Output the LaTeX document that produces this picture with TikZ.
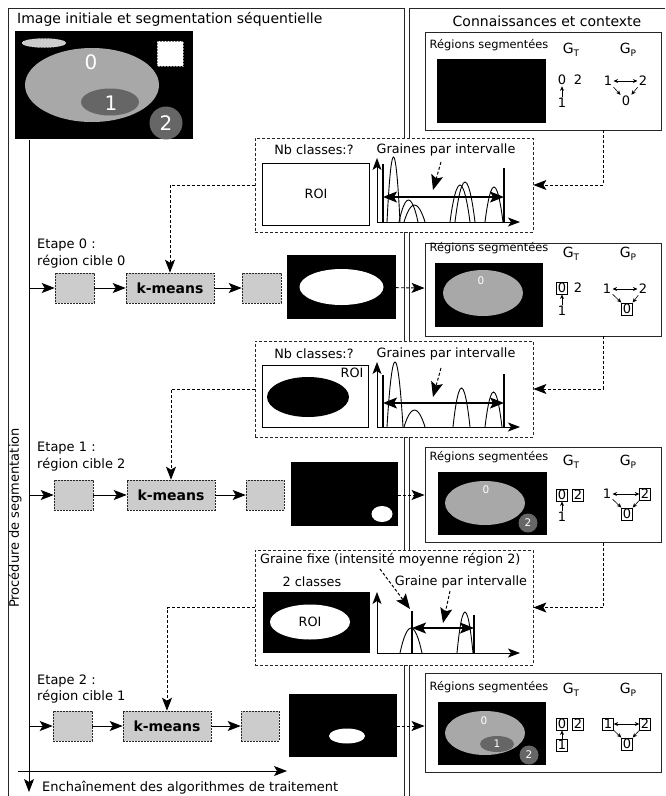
\documentclass[tikz,border=0pt]{standalone}
\usepackage{fontspec}
\setmainfont{DejaVu Sans}
\usetikzlibrary{arrows.meta,calc}
\definecolor{boxgrey}{gray}{0.8}
\definecolor{regA}{gray}{0.66}
\definecolor{regB}{gray}{0.4}
\definecolor{regC}{gray}{0.8}
\newcommand{\fsz}[1]{\fontsize{#1}{#1}\selectfont}
\newcommand{\Gsub}[1]{G\raisebox{-0.35ex}{\fsz{9}#1}}
\begin{document}
\begin{tikzpicture}[x=1pt,y=-1pt,
  panel/.style={draw=black!85, line width=0.8pt},
  kb/.style={draw=black!85, line width=0.9pt, fill=white, minimum width=236pt, inner sep=0pt},
  dbox/.style={draw=black!85, dash pattern=on 3pt off 2pt, fill=white, line width=0.8pt, minimum width=278pt, inner sep=0pt},
  gbox/.style={draw=black!85, dash pattern=on 2pt off 1pt, fill=boxgrey, line width=0.6pt, minimum height=30pt, inner sep=0pt},
  blk/.style={fill=black, inner sep=0pt},
  arr/.style={-{Stealth[length=13pt,width=10pt,inset=3pt]}, line width=0.9pt},
  darr/.style={arr, dash pattern=on 3pt off 2pt},
  harr/.style={{Stealth[length=14pt,width=11pt,inset=3pt]}-{Stealth[length=14pt,width=11pt,inset=3pt]}, line width=1.1pt},
  hdarr/.style={-{Stealth[length=15pt,width=12pt,inset=3pt]}, line width=1pt, dash pattern=on 3pt off 2pt},
  garr/.style={-{Stealth[length=4.5pt,width=4pt]}, line width=0.6pt},
  ggarr/.style={{Stealth[length=4.5pt,width=4pt]}-{Stealth[length=4.5pt,width=4pt]}, line width=0.6pt},
  gnum/.style={inner sep=1.2pt, font=\fsz{13}},
  bnum/.style={gnum, draw, line width=0.7pt},
  txt/.style={inner sep=0pt, font=\fsz{12.8}},
  ttl/.style={inner sep=0pt, font=\fsz{14}},
  rtxt/.style={inner sep=0pt, font=\fsz{11.4}},
  gtl/.style={inner sep=0pt, font=\fsz{14}},
  inum/.style={inner sep=0pt, text=white, font=\fsz{10.5}},
  hbar/.style={line width=1.2pt},
  arch/.style={line width=0.9pt},
  axis/.style={-{Stealth[length=12pt,width=9pt,inset=3pt]}, line width=0.9pt}
]
\useasboundingbox (0,0) rectangle (665,796);
\fill[white] (0,0) rectangle (665,796);

% panels
\draw[panel] (8,796) -- (8,8) -- (404,8) -- (404,796);
\draw[panel] (409,796) -- (409,8) -- (665,8);

% titles
\node[ttl, anchor=west] (title1) at (17,19) {Image initiale et segmentation séquentielle};
\node[ttl] (title2) at (547,21) {Connaissances et contexte};

% initial image
\node[blk, minimum width=178pt, minimum height=108pt] (img0) at (104,85) {};
\fill[regC] (44,43) ellipse [x radius=22, y radius=4.5];
\draw[white, densely dotted, line width=0.5pt] (44,43) ellipse [x radius=22, y radius=4.5];
\fill[white] (157,41) rectangle (183,66);
\draw[gray, densely dotted, line width=0.5pt] (157,41) rectangle (183,66);
\fill[regA] (92,85) ellipse [x radius=67, y radius=37];
\fill[regB] (110,102) ellipse [x radius=29, y radius=13.5];
\fill[regB] (166,123) circle [radius=16.5];
\node[inner sep=0pt, text=white, font=\fsz{20}] (n0) at (91,62) {0};
\node[inner sep=0pt, text=white, font=\fsz{20}] (n1) at (111,103) {1};
\node[inner sep=0pt, text=white, font=\fsz{20}] (n2) at (166,123) {2};

% main vertical and horizontal arrows
\coordinate (vtop) at (29,140);
\coordinate (vbot) at (29,792);
\draw[arr] (vtop) -- (vbot);
\coordinate (hl) at (18,771);
\coordinate (hr) at (287,771);
\draw[arr] (hl) -- (hr);
\node[txt, anchor=west, font=\fsz{13}] (ench) at (42,788) {Enchaînement des algorithmes de traitement};
\node[txt, rotate=90, font=\fsz{13}] (proc) at (15,518) {Procédure de segmentation};

% ================= Knowledge box 1
\node[kb, minimum height=98pt] (kb1) at (543,81) {};
\node[rtxt] (rs1) at (489,45) {Régions segmentées};
\node[gtl] (gt1) at (571,50) {\Gsub{T}};
\node[gtl] (gp1) at (628,50) {\Gsub{P}};
\node[blk, minimum width=109pt, minimum height=64pt] (im1) at (491,91) {};
\node[gnum] (t0a) at (562,80) {0};
\node[gnum] (t2a) at (578,80) {2};
\node[gnum] (t1a) at (562,103) {1};
\draw[garr] (t1a) -- (t0a);
\node[gnum] (p1a) at (608,81) {1};
\node[gnum] (p2a) at (643,81) {2};
\node[gnum] (p0a) at (626,101) {0};
\draw[ggarr] (p1a) -- (p2a);
\draw[garr] (p1a) -- (p0a);
\draw[garr] (p2a) -- (p0a);

% ================= Dashed box 1
\node[dbox, minimum height=94pt] (db1) at (394,185) {};
\node[txt] (nb1) at (314,150) {Nb classes:?};
\node[txt] (gr1) at (446,150) {Graines par intervalle};
\node[draw, line width=0.8pt, minimum width=107pt, minimum height=62pt, inner sep=0pt, font=\fsz{12.8}] (roi1) at (316,194) {ROI};
\draw[axis] (377,222) -- (377,158);
\draw[axis] (377,222) -- (520,222);
\draw[hbar] (383,222) -- (383,164);
\draw[hbar] (504,222) -- (504,168);
\draw[arch] (387,222) parabola bend (393.5,157) (400,222);
\draw[arch] (399,222) parabola bend (408.5,200) (418,222);
\draw[arch] (404,222) parabola bend (414.5,205) (425,222);
\draw[arch] (450,222) parabola bend (460,185) (470,222);
\draw[arch] (455,222) parabola bend (465,182) (475,222);
\draw[arch] (485,222) parabola bend (494,187) (503,222);
\draw[harr] (383,197) -- (504,197);
\draw[hdarr] (441,162) -- (433,190);

% ================= Row 0
\node[txt, anchor=west, font=\fsz{13}] (et0) at (37,245) {Etape 0 :};
\node[txt, anchor=west, font=\fsz{13}] (rc0) at (37,262) {région cible 0};
\node[gbox, minimum width=39pt] (a0) at (74.5,288) {};
\node[gbox, minimum width=88pt, font=\bfseries\fsz{14}] (km0) at (170,288) {k-means};
\node[gbox, minimum width=39pt] (c0) at (261.5,288) {};
\node[blk, minimum width=109pt, minimum height=64pt] (r0) at (341.5,287) {};
\fill[white] (r0.center) ellipse [x radius=42, y radius=18];
\draw[arr] (a0.west -| vtop) -- (a0);
\draw[arr] (a0) -- (km0);
\draw[arr] (km0) -- (c0);
\draw[darr] (db1.west) -| (km0.north);

% ================= Knowledge box 2
\node[kb, minimum height=93pt] (kb2) at (543,289.5) {};
\node[rtxt] (rs2) at (489,248) {Régions segmentées};
\node[gtl] (gt2) at (571,254) {\Gsub{T}};
\node[gtl] (gp2) at (628,254) {\Gsub{P}};
\node[blk, minimum width=108pt, minimum height=64pt] (im2) at (489,295) {};
\fill[regA] (483,293) ellipse [x radius=40, y radius=23];
\node[inum] (i2n0) at (481,281) {0};
\node[bnum] (t0b) at (562,288) {0};
\node[gnum] (t2b) at (578,288) {2};
\node[gnum] (t1b) at (562,311) {1};
\draw[garr] (t1b) -- (t0b);
\node[gnum] (p1b) at (607,289) {1};
\node[gnum] (p2b) at (643,289) {2};
\node[bnum] (p0b) at (627,309) {0};
\draw[ggarr] (p1b) -- (p2b);
\draw[garr] (p1b) -- (p0b.north west);
\draw[garr] (p2b) -- (p0b.north east);
\draw[darr] (r0) -- (kb2);

\coordinate (k1b) at ($(kb1.south)+(60,0)$);
\draw[darr] (k1b) |- (db1.east);

% ================= Dashed box 2
\node[dbox, minimum height=96pt] (db2) at (394,389) {};
\node[txt] (nb2) at (314,354) {Nb classes:?};
\node[txt] (gr2) at (446,354) {Graines par intervalle};
\node[draw, line width=0.8pt, minimum width=106pt, minimum height=62pt, inner sep=0pt] (roi2) at (315,396) {};
\fill[black] (308,397) ellipse [x radius=41, y radius=20];
\node[txt] (roit2) at (352,373) {ROI};
\draw[axis] (377,427) -- (377,362);
\draw[axis] (377,427) -- (520,427);
\draw[hbar] (383,427) -- (383,375);
\draw[hbar] (504,427) -- (504,374);
\draw[arch] (387,427) parabola bend (395,362) (403,427);
\draw[arch] (404,427) parabola bend (414.5,410) (425,427);
\draw[arch] (453,427) parabola bend (461.5,388) (470,427);
\draw[arch] (485,427) parabola bend (493.5,392) (502,427);
\draw[harr] (383,403) -- (504,403);
\draw[hdarr] (441,368) -- (433,397);

\coordinate (k2b) at ($(kb2.south)+(60,0)$);
\draw[darr] (k2b) |- (db2.east);

% ================= Row 1
\node[txt, anchor=west, font=\fsz{13}] (et1) at (37,448) {Etape 1 :};
\node[txt, anchor=west, font=\fsz{13}] (rc1) at (37,465) {région cible 2};
\node[gbox, minimum width=39pt] (a1) at (73.5,495) {};
\node[gbox, minimum width=88pt, font=\bfseries\fsz{14}] (km1) at (171,495) {k-means};
\node[gbox, minimum width=38pt] (c1) at (265,495) {};
\node[blk, minimum width=107pt, minimum height=64pt] (r1) at (344.5,494) {};
\fill[white] (382,514) ellipse [x radius=10.5, y radius=8];
\draw[arr] (a1.west -| vtop) -- (a1);
\draw[arr] (a1) -- (km1);
\draw[arr] (km1) -- (c1);
\draw[darr] (db2.west) -| (km1.north);

% ================= Knowledge box 3
\node[kb, minimum height=95pt] (kb3) at (543,495) {};
\node[rtxt] (rs3) at (489,457) {Régions segmentées};
\node[gtl] (gt3) at (571,462) {\Gsub{T}};
\node[gtl] (gp3) at (628,462) {\Gsub{P}};
\node[blk, minimum width=109pt, minimum height=63pt] (im3) at (492.5,503.5) {};
\fill[regA] (485,503) ellipse [x radius=40, y radius=22];
\node[inum] (i3n0) at (486,490) {0};
\fill[regB] (528,523) circle [radius=9.5];
\node[inum] (i3n2) at (528,523) {2};
\node[bnum] (t0c) at (562,495) {0};
\node[bnum] (t2c) at (578,495) {2};
\node[gnum] (t1c) at (562,517) {1};
\draw[garr] (t1c) -- (t0c);
\node[gnum] (p1c) at (607,494) {1};
\node[bnum] (p2c) at (645,494) {2};
\node[bnum] (p0c) at (627,514) {0};
\draw[ggarr] (p1c) -- (p2c);
\draw[garr] (p1c) -- (p0c.north west);
\draw[garr] (p2c.south west) -- (p0c.north east);
\draw[darr] (r1.east |- kb3.west) -- (kb3.west);

% ================= Dashed box 3
\node[dbox, minimum height=115pt] (db3) at (394,607.5) {};
\node[txt, anchor=west] (gf3) at (260,560) {Graine fixe (intensité moyenne région 2)};
\node[txt] (nb3) at (312,582) {2 classes};
\node[txt] (gr3) at (461,582) {Graine par intervalle};
\node[blk, minimum width=107pt, minimum height=61pt] (roi3) at (316.5,622.5) {};
\fill[white] (310,622) ellipse [x radius=40, y radius=17.5];
\node[txt] (roit3) at (310,622) {ROI};
\draw[axis] (377,653) -- (377,592);
\draw[axis] (377,653) -- (520,653);
\draw[hbar] (412,653) -- (412,611);
\draw[hbar] (474,653) -- (474,615);
\draw[arch] (400,653) parabola bend (411,628) (422,653);
\draw[arch] (457,653) parabola bend (465,612) (473,653);
\draw[harr] (412,628) -- (474,628);
\coordinate (gfa) at (380,569);
\coordinate (gfb) at (410,609);
\draw[hdarr] (gfa) -- (gfb);
\coordinate (gpa) at (450,591);
\coordinate (gpb) at (443,623);
\draw[hdarr] (gpa) -- (gpb);

\coordinate (k3b) at ($(kb3.south)+(60,0)$);
\draw[darr] (k3b) |- (db3.east);

% ================= Row 2
\node[txt, anchor=west, font=\fsz{13}] (et2) at (37,681) {Etape 2 :};
\node[txt, anchor=west, font=\fsz{13}] (rc2) at (37,697) {région cible 1};
\node[gbox, minimum width=39pt] (a2) at (72.5,726) {};
\node[gbox, minimum width=88pt, font=\bfseries\fsz{14}] (km2) at (167,726) {k-means};
\node[gbox, minimum width=38pt] (c2) at (260,726) {};
\node[blk, minimum width=108pt, minimum height=63pt] (r2) at (343,725.5) {};
\fill[white] (347,736) ellipse [x radius=18, y radius=7.5];
\draw[arr] (a2.west -| vtop) -- (a2);
\draw[arr] (a2) -- (km2);
\draw[arr] (km2) -- (c2);
\draw[darr] (db3.west) -| (km2.north);

% ================= Knowledge box 4
\node[kb, minimum height=99pt] (kb4) at (543,722.5) {};
\node[rtxt] (rs4) at (489,687) {Régions segmentées};
\node[gtl] (gt4) at (571,690) {\Gsub{T}};
\node[gtl] (gp4) at (628,690) {\Gsub{P}};
\node[blk, minimum width=108pt, minimum height=63pt] (im4) at (492,733.5) {};
\fill[regA] (485,733) ellipse [x radius=40, y radius=22];
\node[inum] (i4n0) at (484,721) {0};
\fill[regB] (497,744) ellipse [x radius=17, y radius=8];
\node[inum] (i4n1) at (497,744) {1};
\fill[regB] (529,755) circle [radius=9.5];
\node[inum] (i4n2) at (529,755) {2};
\node[bnum] (t0d) at (562,724) {0};
\node[bnum] (t2d) at (578,724) {2};
\node[bnum] (t1d) at (562,745) {1};
\draw[garr] (t1d) -- (t0d);
\node[bnum] (p1d) at (608,724) {1};
\node[bnum] (p2d) at (645,724) {2};
\node[bnum] (p0d) at (627,744) {0};
\draw[ggarr] (p1d) -- (p2d);
\draw[garr] (p1d.south east) -- (p0d.north west);
\draw[garr] (p2d.south west) -- (p0d.north east);
\draw[darr] (r2.east |- a2.east) -- (kb4.west |- a2.east);
\end{tikzpicture}
\end{document}
